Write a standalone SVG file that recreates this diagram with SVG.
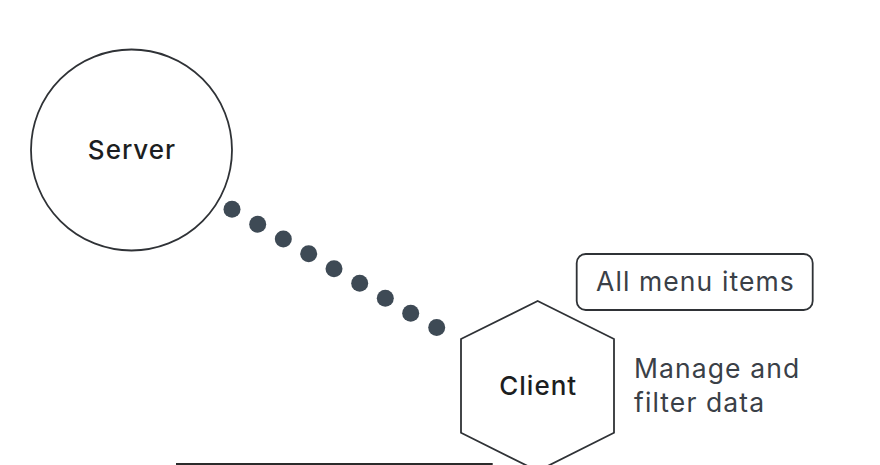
<svg xmlns="http://www.w3.org/2000/svg" width="880" height="465" viewBox="0 0 880 465">
<style>
.shape{fill:#ffffff;stroke:#2f3236;stroke-width:1.8}
.title{font-family:Inter,"Liberation Sans",sans-serif;font-size:26px;font-weight:500;letter-spacing:1px;fill:#1c1e21;text-anchor:middle}
.label{font-family:Inter,"Liberation Sans",sans-serif;font-size:26.5px;font-weight:400;letter-spacing:1.1px;fill:#3a4047}
.dot{fill:#3e4a55}
</style>
<rect width="880" height="465" fill="#ffffff"/>
<g id="connectors">
<circle class="dot" cx="232" cy="209.3" r="8.5"/>
<circle class="dot" cx="257.7" cy="224.3" r="8.5"/>
<circle class="dot" cx="283.3" cy="239" r="8.5"/>
<circle class="dot" cx="308.7" cy="253.7" r="8.5"/>
<circle class="dot" cx="334" cy="268.7" r="8.5"/>
<circle class="dot" cx="359.7" cy="283.3" r="8.5"/>
<circle class="dot" cx="385.3" cy="298.3" r="8.5"/>
<circle class="dot" cx="410.7" cy="313.3" r="8.5"/>
<circle class="dot" cx="436.7" cy="327.5" r="8.5"/>
</g>
<g id="server">
<circle class="shape" cx="131.5" cy="150" r="100.5"/>
<text class="title" x="132" y="159">Server</text>
</g>
<g id="client">
<polygon class="shape" points="537.7,301 614,339 614,432.7 537.7,471 461,432.7 461,339"/>
<text class="title" x="538.2" y="395">Client</text>
</g>
<g id="all-menu-items">
<rect class="shape" x="576.7" y="254" width="236" height="56" rx="9"/>
<text class="label" x="596" y="290.7">All menu items</text>
</g>
<g id="manage-note">
<text class="label" x="634" y="378.3">Manage and</text>
<text class="label" x="634" y="411.7">filter data</text>
</g>
<line x1="176" y1="464" x2="492.7" y2="464" stroke="#2b2b2b" stroke-width="2.2"/>
</svg>
